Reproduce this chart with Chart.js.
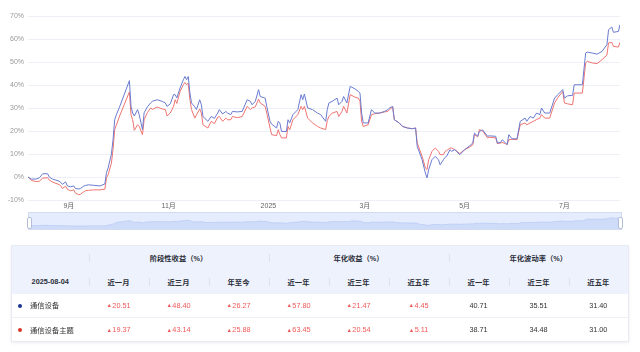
<!DOCTYPE html>
<html><head><meta charset="utf-8">
<script src="https://cdn.jsdelivr.net/npm/chart.js@4/dist/chart.umd.min.js"></script>
<style>
html,body{margin:0;padding:0;background:#fff;width:640px;height:352px;overflow:hidden;font-family:"Liberation Sans","Noto Sans CJK SC",sans-serif;}
#main{position:absolute;left:0;top:0;width:640px;height:212px;}
#zoom{position:absolute;left:28px;top:212px;width:594px;height:18px;background:#e5ecfd;border:1px solid #d3dcf0;box-sizing:border-box;}
#miniWrap{position:absolute;left:0;top:0;width:592px;height:16px;}
.handle{position:absolute;top:217px;width:3px;height:10px;background:#fff;border:1px solid #b4bfd6;border-radius:2px;}
#tbl{position:absolute;left:11px;top:245px;width:617px;border-collapse:collapse;table-layout:fixed;box-shadow:0 1px 3px rgba(0,0,0,0.08);border:1px solid #e8ebf2;}
#tbl th,#tbl td{height:24px;padding:0;text-align:center;font-size:7.3px;color:#333;position:relative;box-sizing:border-box;white-space:nowrap;}
#tbl thead th{background:#eef2fc;font-weight:bold;color:#2b2f3a;}
#tbl thead th.sep::before{content:"";position:absolute;left:0;top:8px;height:8px;width:1px;background:#dce2ee;}
#tbl tbody tr:first-child td{border-bottom:1px solid #eef0f5;}
#tbl td.name{text-align:left;padding-left:18px;}
#tbl td.name .dot{position:absolute;left:6px;top:10px;width:4px;height:4px;border-radius:50%;}
#tbl td.up{color:#f0595a;}
#tbl td.up i{font-style:normal;font-size:5.5px;margin-right:0.5px;vertical-align:0.5px;color:#f0595a;}
</style></head>
<body>
<div id="main"><canvas id="c"></canvas></div>
<div id="zoom"><div id="miniWrap"><canvas id="m"></canvas></div></div>
<div class="handle" style="left:27px"></div>
<div class="handle" style="left:618px"></div>
<table id="tbl">
<colgroup><col style="width:77px"><col style="width:60px"><col style="width:60px"><col style="width:60px"><col style="width:60px"><col style="width:60px"><col style="width:60px"><col style="width:60px"><col style="width:60px"><col style="width:60px"></colgroup>
<thead>
<tr><th></th><th colspan="3" class="sep">阶段性收益（%）</th><th colspan="3" class="sep">年化收益（%）</th><th colspan="3" class="sep">年化波动率（%）</th></tr>
<tr id="hdr2"></tr>
</thead>
<tbody id="tb"></tbody>
</table>
<script>
// ---- data ----
const dates = [
'2024-08-07','2024-08-09','2024-08-12','2024-08-14','2024-08-16','2024-08-19','2024-08-20','2024-08-22','2024-08-26','2024-08-27',
'2024-08-28','2024-08-30','2024-08-31','2024-09-02','2024-09-04','2024-09-05','2024-09-07','2024-09-08','2024-09-10','2024-09-11',
'2024-09-13','2024-09-16','2024-09-20','2024-09-23','2024-09-24','2024-09-25','2024-09-27','2024-09-28','2024-09-29','2024-09-30',
'2024-10-02','2024-10-08','2024-10-09','2024-10-10','2024-10-11','2024-10-13','2024-10-14','2024-10-16','2024-10-17','2024-10-19',
'2024-10-21','2024-10-22','2024-10-25','2024-10-28','2024-10-30','2024-10-31','2024-11-02','2024-11-04','2024-11-05','2024-11-06',
'2024-11-08','2024-11-10','2024-11-11','2024-11-12','2024-11-13','2024-11-14','2024-11-15','2024-11-17','2024-11-18','2024-11-20',
'2024-11-21','2024-11-22','2024-11-25','2024-11-27','2024-11-29','2024-12-01','2024-12-02','2024-12-04','2024-12-06','2024-12-07',
'2024-12-09','2024-12-10','2024-12-13','2024-12-16','2024-12-19','2024-12-21','2024-12-22','2024-12-24','2024-12-26','2024-12-27',
'2024-12-30','2024-12-31','2025-01-02','2025-01-03','2025-01-06','2025-01-07','2025-01-08','2025-01-09','2025-01-12','2025-01-13',
'2025-01-14','2025-01-16','2025-01-19','2025-01-21','2025-01-22','2025-01-23','2025-01-25','2025-01-28','2025-01-31','2025-02-02',
'2025-02-05','2025-02-06','2025-02-07','2025-02-09','2025-02-12','2025-02-13','2025-02-15','2025-02-16','2025-02-18','2025-02-20',
'2025-02-23','2025-02-25','2025-02-26','2025-02-27','2025-02-28','2025-03-03','2025-03-05','2025-03-07','2025-03-10','2025-03-13',
'2025-03-15','2025-03-16','2025-03-18','2025-03-19','2025-03-22','2025-03-24','2025-03-27','2025-03-30','2025-04-01','2025-04-02',
'2025-04-05','2025-04-07','2025-04-08','2025-04-09','2025-04-11','2025-04-13','2025-04-15','2025-04-16','2025-04-18','2025-04-19',
'2025-04-20','2025-04-22','2025-04-23','2025-04-25','2025-04-28','2025-05-01','2025-05-04','2025-05-06','2025-05-07','2025-05-09',
'2025-05-10','2025-05-12','2025-05-15','2025-05-16','2025-05-20','2025-05-21','2025-05-23','2025-05-24','2025-05-26','2025-05-27',
'2025-05-28','2025-05-30','2025-06-02','2025-06-04','2025-06-07','2025-06-08','2025-06-10','2025-06-12','2025-06-14','2025-06-16',
'2025-06-17','2025-06-19','2025-06-22','2025-06-25','2025-06-27','2025-06-30','2025-07-01','2025-07-03','2025-07-06','2025-07-07',
'2025-07-12','2025-07-14','2025-07-15','2025-07-18','2025-07-21','2025-07-24','2025-07-27','2025-07-28','2025-07-30','2025-07-31',
'2025-08-03','2025-08-04'];

// 通信设备 (%)
const equipSeries = [
0,-0.9,-0.9,-0.3,1.4,1.4,0,-0.9,-1.8,-2.3,
-3.2,-2.1,-3.8,-4.3,-3.9,-5.0,-5.2,-5.0,-4.0,-3.7,
-3.4,-3.6,-3.9,-3.0,2.0,3.9,10,16.2,24.9,27,
30.5,41.9,30.7,27.8,26.5,29.3,27.1,20.6,27.9,30.5,
32.2,32.9,33.6,32.9,32.2,30.7,31.8,35.8,35.8,34.4,
38.7,42.3,43.7,42.3,43.7,36.5,32.2,30.5,29.3,33.6,
31.4,26.3,24.2,26.3,25.5,27.8,29.3,27.4,28.5,27.8,
27.1,28.5,28.3,28.5,33.6,32.9,31.4,32.9,38.0,35.0,
34.3,30.7,24.2,23.0,21.3,24.2,23.5,19.8,19.8,24.9,
23.5,27.1,29.3,35.8,33.6,36.1,30.0,29.3,27.8,27.1,
24.2,29.3,32.2,32.9,34.3,31.4,32.9,35.0,32.2,39.4,
38.3,37.2,36.5,27.8,23.5,23.5,29.3,27.8,27.8,28.5,
29.3,30.0,30.7,24.9,23.5,22.0,21.3,21.0,21.3,13.3,
7.5,1.7,-0.4,3.2,7.5,9.0,7.5,5.3,7.5,8.5,
9.0,11.9,11.2,11.9,9.7,11.9,13.5,14.8,19.1,17.7,
19.8,20.5,17.7,17.9,17.7,14.8,15.0,16.2,14.8,14.1,
18.4,16.6,16.6,24.2,25.6,24.2,26.3,25.6,27.8,27.1,
30.0,27.8,27.8,34.3,35.8,38.0,34.3,35.3,35.5,40.1,
40.1,53.9,54.3,53.9,53.4,54.6,57.5,64.0,65.2,62.9,
63.3,66.2];

// 通信设备主题 (%)
const themeSeries = [
0,-1.5,-2.0,-1.8,-0.5,-0.3,-1.3,-2.2,-3.3,-3.8,
-5.0,-4.0,-5.3,-6.0,-5.6,-7.0,-7.7,-7.5,-6.5,-6.0,
-5.8,-5.6,-5.6,-5.3,-0.3,1.0,6,12,20.6,22.5,
26.5,37.0,27.0,24.9,20.3,22.7,22.0,18.4,24.9,28.0,
30.0,29.4,30.4,29.6,29.3,26.6,27.8,30.7,33.6,32.0,
37.2,40.1,41.1,40.1,40.8,33.6,29.3,25.6,27.0,29.6,
27.8,22.7,21.3,24.2,23.2,26.0,26.3,24.2,25.6,24.9,
24.9,26.3,25.8,26.3,30.7,29.3,30.0,30.5,33.9,32.2,
30.7,27.8,21.3,18.4,18.0,20.6,18.5,17.0,17.0,22.0,
20.5,24.9,27.1,30.7,29.3,30.7,25.6,23.5,22.0,21.3,
20.6,24.5,26.3,27.8,28.5,26.3,28.5,30.7,27.8,35.8,
34.7,34.3,32.9,24.2,22.0,22.7,27.1,27.5,27.8,28.3,
28.5,29.3,30.4,24.9,23.5,22.0,21.3,21.0,21.3,14.8,
9.0,3.9,3.2,7.5,11.1,12.6,11.2,9.7,9.7,11.1,
11.5,12.6,12.6,11.9,10.2,11.9,13.0,14.0,18.4,17.5,
20.6,20.0,17.0,17.3,17.0,14.5,14.8,15.0,14.5,14.1,
16.2,16.4,16.2,22.7,23.5,22.7,23.5,24.2,25.0,25.6,
27.1,25.6,25.6,32.2,34.5,37.2,32.2,31.8,31.4,36.5,
36.5,49.6,50.3,49.6,49.3,51.0,53.0,58.3,58.5,56.8,
56.5,58.5];

const seriesNames = ['通信设备','通信设备主题'];
const xTickDates = ['2024-09-01','2024-11-01','2025-01-01','2025-03-01','2025-05-01','2025-07-01'];
const xTickLabels = ['9月','11月','2025','3月','5月','7月'];
const yTicks = [-10,0,10,20,30,40,50,60,70];

// table data
const tableDate = '2025-08-04';
const periodHeaders = ['近一月','近三月','年至今','近一年','近三年','近五年','近一年','近三年','近五年'];
const equipStats = [20.51,48.40,26.27,57.80,21.47,4.45,40.71,35.51,31.40];
const themeStats = [19.37,43.14,25.88,63.45,20.54,5.11,38.71,34.48,31.00];
const dotColors = ['#1b3393','#d8372a'];

// ---- helpers ----
function dayIdx(s){
  const p = s.split('-').map(Number), b = dates[0].split('-').map(Number);
  return (Date.UTC(p[0],p[1]-1,p[2]) - Date.UTC(b[0],b[1]-1,b[2]))/86400000;
}
const xs = dates.map(dayIdx);
const FONT = '"Liberation Sans","Noto Sans CJK SC",sans-serif';

new Chart(document.getElementById('c'), {
  type:'line',
  data:{datasets:[
    {label:seriesNames[0], data:xs.map((x,i)=>({x, y:equipSeries[i]})), borderColor:'#6a7bd0', borderWidth:1, pointRadius:0, tension:0},
    {label:seriesNames[1], data:xs.map((x,i)=>({x, y:themeSeries[i]})), borderColor:'#ef7470', borderWidth:1, pointRadius:0, tension:0}
  ]},
  options:{
    responsive:true, maintainAspectRatio:false, animation:false,
    layout:{padding:{top:16,right:20,left:0,bottom:0}},
    plugins:{legend:{display:false},tooltip:{enabled:false}},
    scales:{
      x:{type:'linear', min:0, max:xs[xs.length-1],
        afterBuildTicks:(a)=>{a.ticks = xTickDates.map(d=>({value:dayIdx(d)}));},
        afterFit:(s)=>{s.height=12;},
        grid:{display:false, drawTicks:false}, border:{display:false},
        ticks:{autoSkip:false, maxRotation:0, padding:2, color:'#666', font:{size:7,family:FONT},
          callback:(v,i)=>xTickLabels[i]}},
      y:{min:-10,max:70,
        afterBuildTicks:(a)=>{a.ticks = yTicks.map(v=>({value:v}));},
        afterFit:(s)=>{s.width=28;},
        grid:{color:'#eef0f7', drawTicks:false, lineWidth:1}, border:{display:false},
        ticks:{padding:4, color:'#999', font:{size:7,family:FONT}, callback:(v)=>v+'%'}}
    }
  }
});

new Chart(document.getElementById('m'), {
  type:'line',
  data:{datasets:[{data:xs.map((x,i)=>({x, y:equipSeries[i]})), borderColor:'#b9cbf3', borderWidth:0.8, backgroundColor:'#cfdcf9', fill:'start', pointRadius:0, tension:0}]},
  options:{responsive:true, maintainAspectRatio:false, animation:false,
    layout:{padding:0},
    plugins:{legend:{display:false},tooltip:{enabled:false}},
    scales:{x:{type:'linear',display:false,min:0,max:xs[xs.length-1]}, y:{display:false,min:-30,max:107}}}
});

// ---- table ----
const hdr2 = document.getElementById('hdr2');
let h = '<th>'+tableDate+'</th>';
periodHeaders.forEach(p=>{ h += '<th class="sep">'+p+'</th>'; });
hdr2.innerHTML = h;
const tb = document.getElementById('tb');
[equipStats, themeStats].forEach((row,ri)=>{
  let r = '<tr><td class="name"><span class="dot" style="background:'+dotColors[ri]+'"></span>'+seriesNames[ri]+'</td>';
  row.forEach((v,ci)=>{
    const s = v.toFixed(2);
    r += ci < 6 ? '<td class="up"><i>▲</i>'+s+'</td>' : '<td>'+s+'</td>';
  });
  tb.innerHTML += r + '</tr>';
});
</script>
</body></html>
